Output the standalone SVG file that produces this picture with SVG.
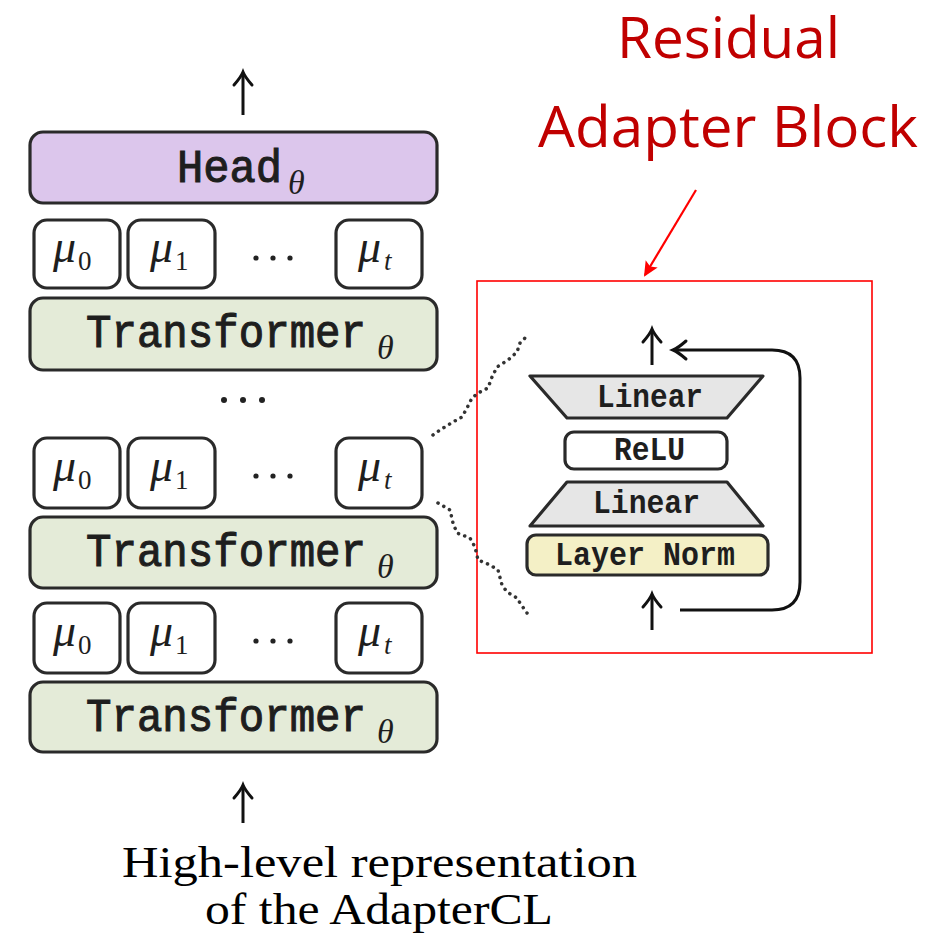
<svg xmlns="http://www.w3.org/2000/svg" width="937" height="937" viewBox="0 0 937 937">
  <style>
    .box { stroke: #2a2a2a; stroke-width: 3.2; }
    .head { fill: #dcc6ec; }
    .tf { fill: #e4ebd8; }
    .mu { fill: #ffffff; }
    .tt { font-family: "Liberation Mono", "DejaVu Sans Mono", monospace; fill: #1e1e1e; }
    .tt-big { font-size: 47px; stroke: #1e1e1e; stroke-width: 1.1; }
    .tt-small { font-size: 34px; font-weight: bold; }
    .math { font-family: "Liberation Serif", "DejaVu Serif", serif; fill: #1e1e1e; }
    .it { font-style: italic; }
    .mu-sym { font-size: 46px; font-style: italic; }
    .mu-sub { font-size: 27px; }
    .caption { font-family: "Liberation Serif", "DejaVu Serif", serif; font-size: 44px; fill: #000; }
    .title { font-family: "Open Sans", "Noto Sans", sans-serif; font-size: 56px; fill: #c00000; }
    .wire { stroke: #111; stroke-width: 3; fill: none; }
    .dots { stroke: #333; stroke-width: 3.5; fill: none; stroke-dasharray: 0.1 6.5; stroke-linecap: round; stroke-linejoin: round; }
  </style>
  <defs>
    <marker id="tip" markerUnits="userSpaceOnUse" markerWidth="30" markerHeight="30" viewBox="-15 -15 30 30" refX="0" refY="0" orient="auto">
      <path d="M-12,-9 Q-4,-2 1,0 Q-4,2 -12,9" fill="none" stroke="#111" stroke-width="3" stroke-linecap="round"/>
    </marker>
    <marker id="tip-red" markerUnits="userSpaceOnUse" markerWidth="30" markerHeight="30" viewBox="-15 -15 30 30" refX="0" refY="0" orient="auto">
      <path d="M2,0 L-13,-7 L-10,0 L-13,7 Z" fill="#ff0000"/>
    </marker>
  </defs>
  <rect width="937" height="937" fill="#ffffff"/>

  <!-- title -->
  <g id="title">
    <text class="title" x="617" y="58" textLength="223" lengthAdjust="spacingAndGlyphs">Residual</text>
    <text class="title" x="538" y="147" textLength="380" lengthAdjust="spacingAndGlyphs">Adapter Block</text>
  </g>

  <!-- head -->
  <g id="head">
    <rect class="box head" x="30" y="132" width="407" height="71" rx="13"/>
    <text class="tt tt-big" x="177" y="182" textLength="105" lengthAdjust="spacingAndGlyphs">Head</text>
    <text class="math it" x="288" y="194" font-size="34">θ</text>
  </g>

  <!-- adapter rows -->
  <g id="mu-row-1">
    <rect class="box mu" x="34" y="220" width="86" height="68" rx="13"/>
    <text class="math mu-sym" x="53" y="262">μ</text><text class="math mu-sub" x="78" y="270">0</text>
    <rect class="box mu" x="128" y="220" width="87" height="68" rx="13"/>
    <text class="math mu-sym" x="150" y="262">μ</text><text class="math mu-sub" x="175" y="270">1</text>
    <circle cx="256" cy="258" r="2.6" fill="#222"/><circle cx="273" cy="258" r="2.6" fill="#222"/><circle cx="290" cy="258" r="2.6" fill="#222"/>
    <rect class="box mu" x="336" y="220" width="86" height="68" rx="13"/>
    <text class="math mu-sym" x="358" y="262">μ</text><text class="math mu-sub it" x="384" y="270">t</text>
  </g>
  <g id="transformer-1">
    <rect class="box tf" x="30" y="298" width="407" height="72" rx="13"/>
    <text class="tt tt-big" x="86" y="347" textLength="280" lengthAdjust="spacingAndGlyphs">Transformer</text>
    <text class="math it" x="377" y="359" font-size="34">θ</text>
  </g>

  <g id="ellipsis">
    <circle cx="224" cy="400" r="3" fill="#222"/><circle cx="243" cy="400" r="3" fill="#222"/><circle cx="262" cy="400" r="3" fill="#222"/>
  </g>

  <g id="mu-row-2">
    <rect class="box mu" x="34" y="438" width="86" height="70" rx="13"/>
    <text class="math mu-sym" x="53" y="481">μ</text><text class="math mu-sub" x="78" y="489">0</text>
    <rect class="box mu" x="128" y="438" width="87" height="70" rx="13"/>
    <text class="math mu-sym" x="150" y="481">μ</text><text class="math mu-sub" x="175" y="489">1</text>
    <circle cx="256" cy="476" r="2.6" fill="#222"/><circle cx="273" cy="476" r="2.6" fill="#222"/><circle cx="290" cy="476" r="2.6" fill="#222"/>
    <rect class="box mu" x="336" y="438" width="86" height="70" rx="13"/>
    <text class="math mu-sym" x="358" y="481">μ</text><text class="math mu-sub it" x="384" y="489">t</text>
  </g>
  <g id="transformer-2">
    <rect class="box tf" x="30" y="517" width="407" height="71" rx="13"/>
    <text class="tt tt-big" x="86" y="566" textLength="280" lengthAdjust="spacingAndGlyphs">Transformer</text>
    <text class="math it" x="377" y="578" font-size="34">θ</text>
  </g>

  <g id="mu-row-3">
    <rect class="box mu" x="34" y="603" width="86" height="70" rx="13"/>
    <text class="math mu-sym" x="53" y="646">μ</text><text class="math mu-sub" x="78" y="654">0</text>
    <rect class="box mu" x="128" y="603" width="87" height="70" rx="13"/>
    <text class="math mu-sym" x="150" y="646">μ</text><text class="math mu-sub" x="175" y="654">1</text>
    <circle cx="256" cy="641" r="2.6" fill="#222"/><circle cx="273" cy="641" r="2.6" fill="#222"/><circle cx="290" cy="641" r="2.6" fill="#222"/>
    <rect class="box mu" x="336" y="603" width="86" height="70" rx="13"/>
    <text class="math mu-sym" x="358" y="646">μ</text><text class="math mu-sub it" x="384" y="654">t</text>
  </g>
  <g id="transformer-3">
    <rect class="box tf" x="30" y="682" width="407" height="70" rx="13"/>
    <text class="tt tt-big" x="86" y="731" textLength="280" lengthAdjust="spacingAndGlyphs">Transformer</text>
    <text class="math it" x="377" y="743" font-size="34">θ</text>
  </g>

  <g id="caption">
    <text class="caption" x="122" y="877" textLength="515" lengthAdjust="spacingAndGlyphs">High-level representation</text>
    <text class="caption" x="205" y="924" textLength="348" lengthAdjust="spacingAndGlyphs">of the AdapterCL</text>
  </g>

  <!-- residual adapter block -->
  <g id="adapter-frame">
    <rect x="477" y="281" width="395" height="372" fill="none" stroke="#ff0000" stroke-width="1.6"/>
  </g>
  <g id="linear-up">
    <path class="box" d="M530,376 L763,376 L727,418 L567,418 Z" fill="#e6e6e6" stroke-linejoin="round"/>
    <text class="tt tt-small" x="597" y="407" textLength="106" lengthAdjust="spacingAndGlyphs">Linear</text>
  </g>
  <g id="relu">
    <rect class="box" x="565" y="432" width="162" height="37" rx="9" fill="#ffffff"/>
    <text class="tt tt-small" x="614" y="460" textLength="71" lengthAdjust="spacingAndGlyphs">ReLU</text>
  </g>
  <g id="linear-down">
    <path class="box" d="M567,482 L727,482 L763,526 L530,526 Z" fill="#e6e6e6" stroke-linejoin="round"/>
    <text class="tt tt-small" x="593" y="513" textLength="107" lengthAdjust="spacingAndGlyphs">Linear</text>
  </g>
  <g id="layer-norm">
    <rect class="box" x="527" y="535" width="241" height="40" rx="9" fill="#f4f0c6"/>
    <text class="tt tt-small" x="555" y="565" textLength="180" lengthAdjust="spacingAndGlyphs">Layer Norm</text>
  </g>

  <!-- connectors -->
  <g id="connectors">
    <line class="wire" x1="243" y1="115" x2="243" y2="73" marker-end="url(#tip)"/>
    <line class="wire" x1="243" y1="823" x2="243" y2="786" marker-end="url(#tip)"/>
    <line class="wire" x1="652" y1="365" x2="652" y2="330" marker-end="url(#tip)"/>
    <line class="wire" x1="652" y1="630" x2="652" y2="595" marker-end="url(#tip)"/>
    <path class="wire" d="M680,610 H772 Q800,610 800,582 V378 Q800,350 772,350 H674" marker-end="url(#tip)"/>
    <line x1="696" y1="190" x2="645" y2="275" stroke="#ff0000" stroke-width="2.2" marker-end="url(#tip-red)"/>
    <polyline class="dots" points="433,435 440,430 453,422 462,417 467,408 472,398 478,393 488,388 492,377 497,367 508,360 517,352 520,343 525,338"/>
    <polyline class="dots" points="438,503 450,510 453,523 457,533 470,538 475,547 478,560 490,565 498,570 502,585 507,592 517,598 520,603 527,613"/>
  </g>
</svg>
